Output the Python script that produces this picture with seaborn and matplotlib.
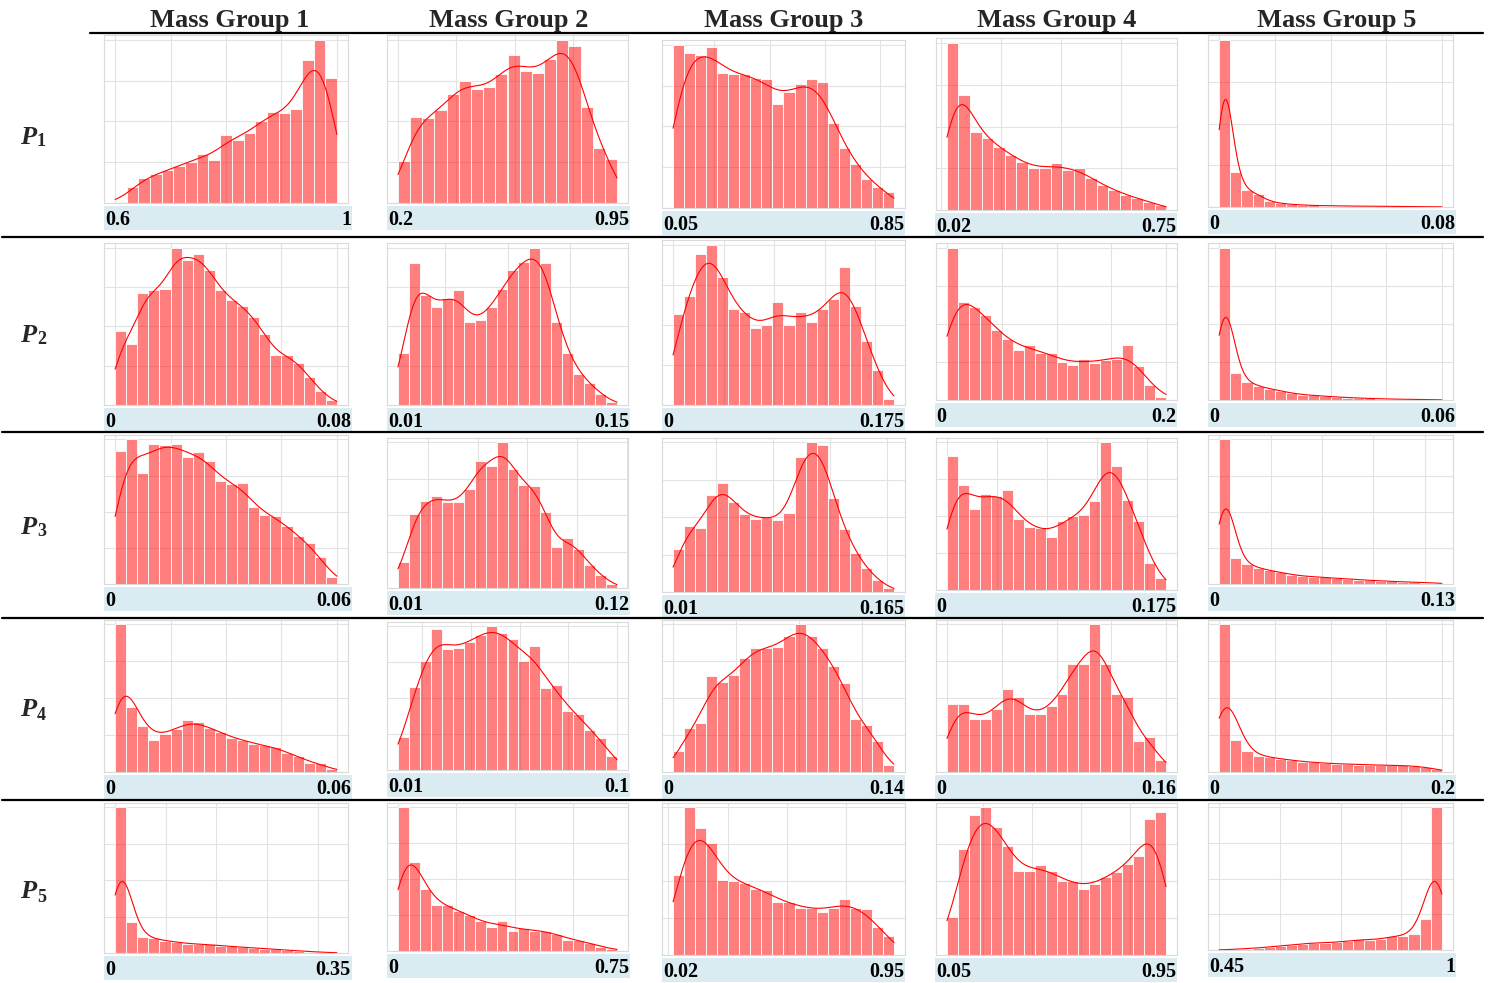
import numpy as np
import pandas as pd
import matplotlib
matplotlib.use("Agg")
import matplotlib.pyplot as plt
from matplotlib.lines import Line2D
from matplotlib.patches import Rectangle
from matplotlib.ticker import MaxNLocator
import seaborn as sns

# ---------------------------------------------------------------------------
# Column / row titles
# ---------------------------------------------------------------------------
groups = ["Mass Group 1", "Mass Group 2", "Mass Group 3", "Mass Group 4", "Mass Group 5"]
params = ["1", "2", "3", "4", "5"]

# ---------------------------------------------------------------------------
# Bin counts (relative, tallest bin = 100) for every parameter / mass group
# ---------------------------------------------------------------------------
p1_mg1 = [0.6, 9.6, 15.5, 17.6, 20.2, 22.7, 25.4, 29.9, 26.2, 41.5, 38.9, 43.1, 50.5, 55.8, 55.2, 57.9, 87.5, 100, 76.5]
p1_mg2 = [26, 53, 52, 57, 67, 75, 70, 71, 79, 91, 81, 80, 88, 100, 96, 59, 34, 27]
p1_mg3 = [100, 95, 94, 99, 83, 82, 82, 80, 79, 64, 71, 76, 79, 77, 52, 37, 27, 18, 13, 10]
p1_mg4 = [100, 69, 47, 43, 38, 33, 29, 25, 25, 28, 24, 25, 19, 15, 12, 9, 7, 5, 3]
p1_mg5 = [100, 21, 10, 7.5, 3.5, 2.2, 1.6, 1.2, 0.9, 0.8, 0.7, 0.6, 0.5, 0.5, 0.4, 0.4, 0.3, 0.3, 0.2, 0.2]

p2_mg1 = [47, 39, 71, 73, 74, 100, 92, 96, 86, 73, 67, 63, 56, 45, 32, 32, 27, 18, 9, 3]
p2_mg2 = [33, 90, 70, 62, 68, 73, 53, 54, 62, 74, 86, 91, 100, 90, 53, 33, 20, 14, 7, 2]
p2_mg3 = [57, 68, 94, 100, 80, 60, 58, 48, 50, 64, 50, 58, 52, 60, 66, 86, 62, 40, 22, 4]
p2_mg4 = [100, 64, 61, 56, 46, 40, 33, 36, 31, 31, 25, 23, 27, 24, 26, 27, 36, 22, 10, 2]
p2_mg5 = [100, 18, 12, 9, 7.5, 6, 4.5, 3.5, 3, 2.5, 2, 1.6, 1.3, 1, 0.8, 0.6, 0.5, 0.4, 0.3, 0.2]

p3_mg1 = [92, 100, 77, 97, 96, 97, 88, 91, 85, 71, 69, 70, 53, 48, 47, 40, 33, 28, 19, 5]
p3_mg2 = [18, 51, 60, 63, 59, 59, 68, 87, 84, 100, 82, 71, 70, 52, 28, 34, 27, 16, 9, 3]
p3_mg3 = [29, 44, 43, 65, 73, 60, 52, 49, 50, 48, 53, 90, 100, 98, 63, 42, 26, 16, 8, 3]
p3_mg4 = [91, 71, 55, 65, 64, 68, 48, 43, 42, 36, 47, 50, 51, 60, 100, 84, 61, 47, 18, 8]
p3_mg5 = [100, 18, 14, 11, 9.5, 8, 6.5, 5.5, 5, 4.5, 4, 3.5, 3, 2.5, 2.2, 1.8, 1.5, 1.2, 1, 0.8]

p4_mg1 = [100, 44, 31, 22, 26, 29, 35, 34, 30, 27, 23, 22, 19, 18, 17, 13, 11, 6, 6, 2]
p4_mg2 = [23, 58, 76, 98, 84, 85, 89, 94, 100, 95, 91, 76, 86, 57, 59, 41, 39, 28, 22, 10]
p4_mg3 = [14, 30, 33, 65, 61, 66, 77, 84, 84, 85, 92, 100, 92, 84, 72, 60, 36, 32, 21, 5]
p4_mg4 = [46, 46, 36, 36, 43, 56, 51, 39, 39, 45, 53, 73, 73, 100, 73, 53, 51, 21, 24, 8]
p4_mg5 = [100, 22, 14, 11, 10, 9, 8, 7, 6.5, 6, 5.5, 5.5, 5, 5, 4.5, 4.5, 4.5, 4, 3.5, 2]

p5_mg1 = [100, 21, 11, 10, 8.5, 7.5, 6.5, 6, 6, 5, 4.5, 4, 3.5, 3, 2.5, 2, 1.5, 1, 0.6, 0.3]
p5_mg2 = [100, 62, 43, 32, 32, 28, 25, 21, 17, 21, 14, 16, 14, 14, 12, 8, 7.5, 5.5, 3, 1.5]
p5_mg3 = [54, 100, 86, 76, 51, 50, 49, 45, 44, 36, 36, 32, 32, 29, 32, 38, 32, 31, 19, 13]
p5_mg4 = [26, 72, 95, 100, 87, 74, 57, 57, 61, 57, 50, 50, 45, 48, 53, 56, 62, 67, 92, 97]
p5_mg5 = [0.2, 0.5, 1, 1.5, 2, 3, 3.5, 4.5, 5, 5, 5.5, 6, 7.5, 7, 7.5, 9.5, 10, 11, 22, 100]

# Value range (min, max) of each parameter within each mass group
p1_ranges = [(0.6, 1), (0.2, 0.95), (0.05, 0.85), (0.02, 0.75), (0, 0.08)]
p2_ranges = [(0, 0.08), (0.01, 0.15), (0, 0.175), (0, 0.2), (0, 0.06)]
p3_ranges = [(0, 0.06), (0.01, 0.12), (0.01, 0.165), (0, 0.175), (0, 0.13)]
p4_ranges = [(0, 0.06), (0.01, 0.1), (0, 0.14), (0, 0.16), (0, 0.2)]
p5_ranges = [(0, 0.35), (0, 0.75), (0.02, 0.95), (0.05, 0.95), (0.45, 1)]

counts = [
    [p1_mg1, p1_mg2, p1_mg3, p1_mg4, p1_mg5],
    [p2_mg1, p2_mg2, p2_mg3, p2_mg4, p2_mg5],
    [p3_mg1, p3_mg2, p3_mg3, p3_mg4, p3_mg5],
    [p4_mg1, p4_mg2, p4_mg3, p4_mg4, p4_mg5],
    [p5_mg1, p5_mg2, p5_mg3, p5_mg4, p5_mg5],
]
ranges = [p1_ranges, p2_ranges, p3_ranges, p4_ranges, p5_ranges]

# KDE smoothing per panel
bw_adjust = [
    [0.40, 0.40, 0.45, 0.38, 0.22],
    [0.35, 0.35, 0.35, 0.40, 0.24],
    [0.40, 0.35, 0.35, 0.35, 0.22],
    [0.35, 0.40, 0.40, 0.35, 0.25],
    [0.24, 0.35, 0.40, 0.35, 0.25],
]

# ---------------------------------------------------------------------------
# Layout (pixels)
# ---------------------------------------------------------------------------
W, H = 1489, 983
col_x = [(104, 348), (387, 628), (662, 905), (936, 1177), (1208, 1453)]
band_x = [(104, 352), (387, 630), (662, 905), (935, 1177), (1208, 1456)]
row_y = [
    [(35, 203), (35, 203), (40, 208), (38, 210), (35, 207)],
    [(243, 405), (243, 405), (240, 405), (243, 400), (243, 400)],
    [(435, 584), (438, 588), (438, 592), (438, 590), (435, 584)],
    [(620, 772), (622, 770), (620, 772), (620, 772), (620, 772)],
    [(803, 953), (803, 951), (803, 955), (803, 955), (803, 950)],
]
header_x = [230, 509, 784, 1057, 1337]
row_center = [137, 335, 527, 710, 892]
separators = [237, 432, 618, 800]

BAND = "#daecf2"
SERIF = ["Liberation Serif", "DejaVu Serif"]

sns.set_theme(style="whitegrid", rc={
    "grid.color": "#e3e3e3",
    "grid.linewidth": 0.8,
    "axes.edgecolor": "#dadada",
    "axes.linewidth": 0.8,
})
plt.rcParams["font.family"] = SERIF

fig = plt.figure(figsize=(W / 100, H / 100), dpi=100)


def fig_box(x0, y0, x1, y1):
    return [x0 / W, 1 - y1 / H, (x1 - x0) / W, (y1 - y0) / H]


def fmt(v):
    return f"{v:g}"


for r in range(5):
    for c in range(5):
        heights = np.asarray(counts[r][c], dtype=float)
        lo, hi = ranges[r][c]
        n = len(heights)
        edges = np.linspace(lo, hi, n + 1)
        frame = pd.DataFrame({"value": 0.5 * (edges[:-1] + edges[1:]), "count": heights})

        x0, x1 = col_x[c]
        y0, y1 = row_y[r][c]
        ax = fig.add_axes(fig_box(x0, y0, x1, y1))
        sns.histplot(
            data=frame, x="value", weights="count", bins=n, binrange=(lo, hi),
            kde=True, ax=ax,
            color="red", alpha=0.5, edgecolor="white", linewidth=0.6,
            kde_kws=dict(bw_adjust=bw_adjust[r][c], cut=3, clip=(lo, hi)),
            line_kws=dict(linewidth=0.8),
        )
        ax.margins(x=0.05)
        ax.set_ylim(0, heights.max() * 1.03)
        ax.xaxis.set_major_locator(MaxNLocator(5))
        ax.yaxis.set_major_locator(MaxNLocator(5))
        ax.tick_params(length=0, labelbottom=False, labelleft=False)
        ax.set_xlabel("")
        ax.set_ylabel("")

        # light-blue range strip with min / max values
        bx0, bx1 = band_x[c]
        by0, by1 = y1 + 3, y1 + 27
        fig.add_artist(Rectangle((bx0 / W, 1 - by1 / H), (bx1 - bx0) / W, (by1 - by0) / H,
                                 transform=fig.transFigure, facecolor=BAND,
                                 edgecolor="none", zorder=0))
        ty = 1 - (by0 + 14) / H
        fig.text((bx0 + 1) / W, ty, fmt(lo), ha="left", va="center",
                 fontsize=14.5, fontweight="bold", family=SERIF, color="black")
        fig.text((bx1 - 1) / W, ty, fmt(hi), ha="right", va="center",
                 fontsize=14.5, fontweight="bold", family=SERIF, color="black")

# Column headers
for c, g in enumerate(groups):
    fig.text(header_x[c] / W, 1 - 20 / H, g, ha="center", va="center",
             fontsize=19, fontweight="bold", family=SERIF)

# Row labels P1..P5
for r, p in enumerate(params):
    yc = 1 - row_center[r] / H
    fig.text(20 / W, yc, "P", ha="left", va="center", fontsize=19,
             fontweight="bold", fontstyle="italic", family=SERIF)
    fig.text(37 / W, yc - 5 / H, p, ha="left", va="center", fontsize=13,
             fontweight="bold", family=SERIF)

# Table rules
fig.add_artist(Line2D([90 / W, 1483 / W], [1 - 33 / H, 1 - 33 / H],
                      color="black", linewidth=1.6, transform=fig.transFigure))
for y in separators:
    fig.add_artist(Line2D([2 / W, 1483 / W], [1 - y / H, 1 - y / H],
                          color="black", linewidth=1.6, transform=fig.transFigure))

fig.savefig("out.png", dpi=100, facecolor="white")
